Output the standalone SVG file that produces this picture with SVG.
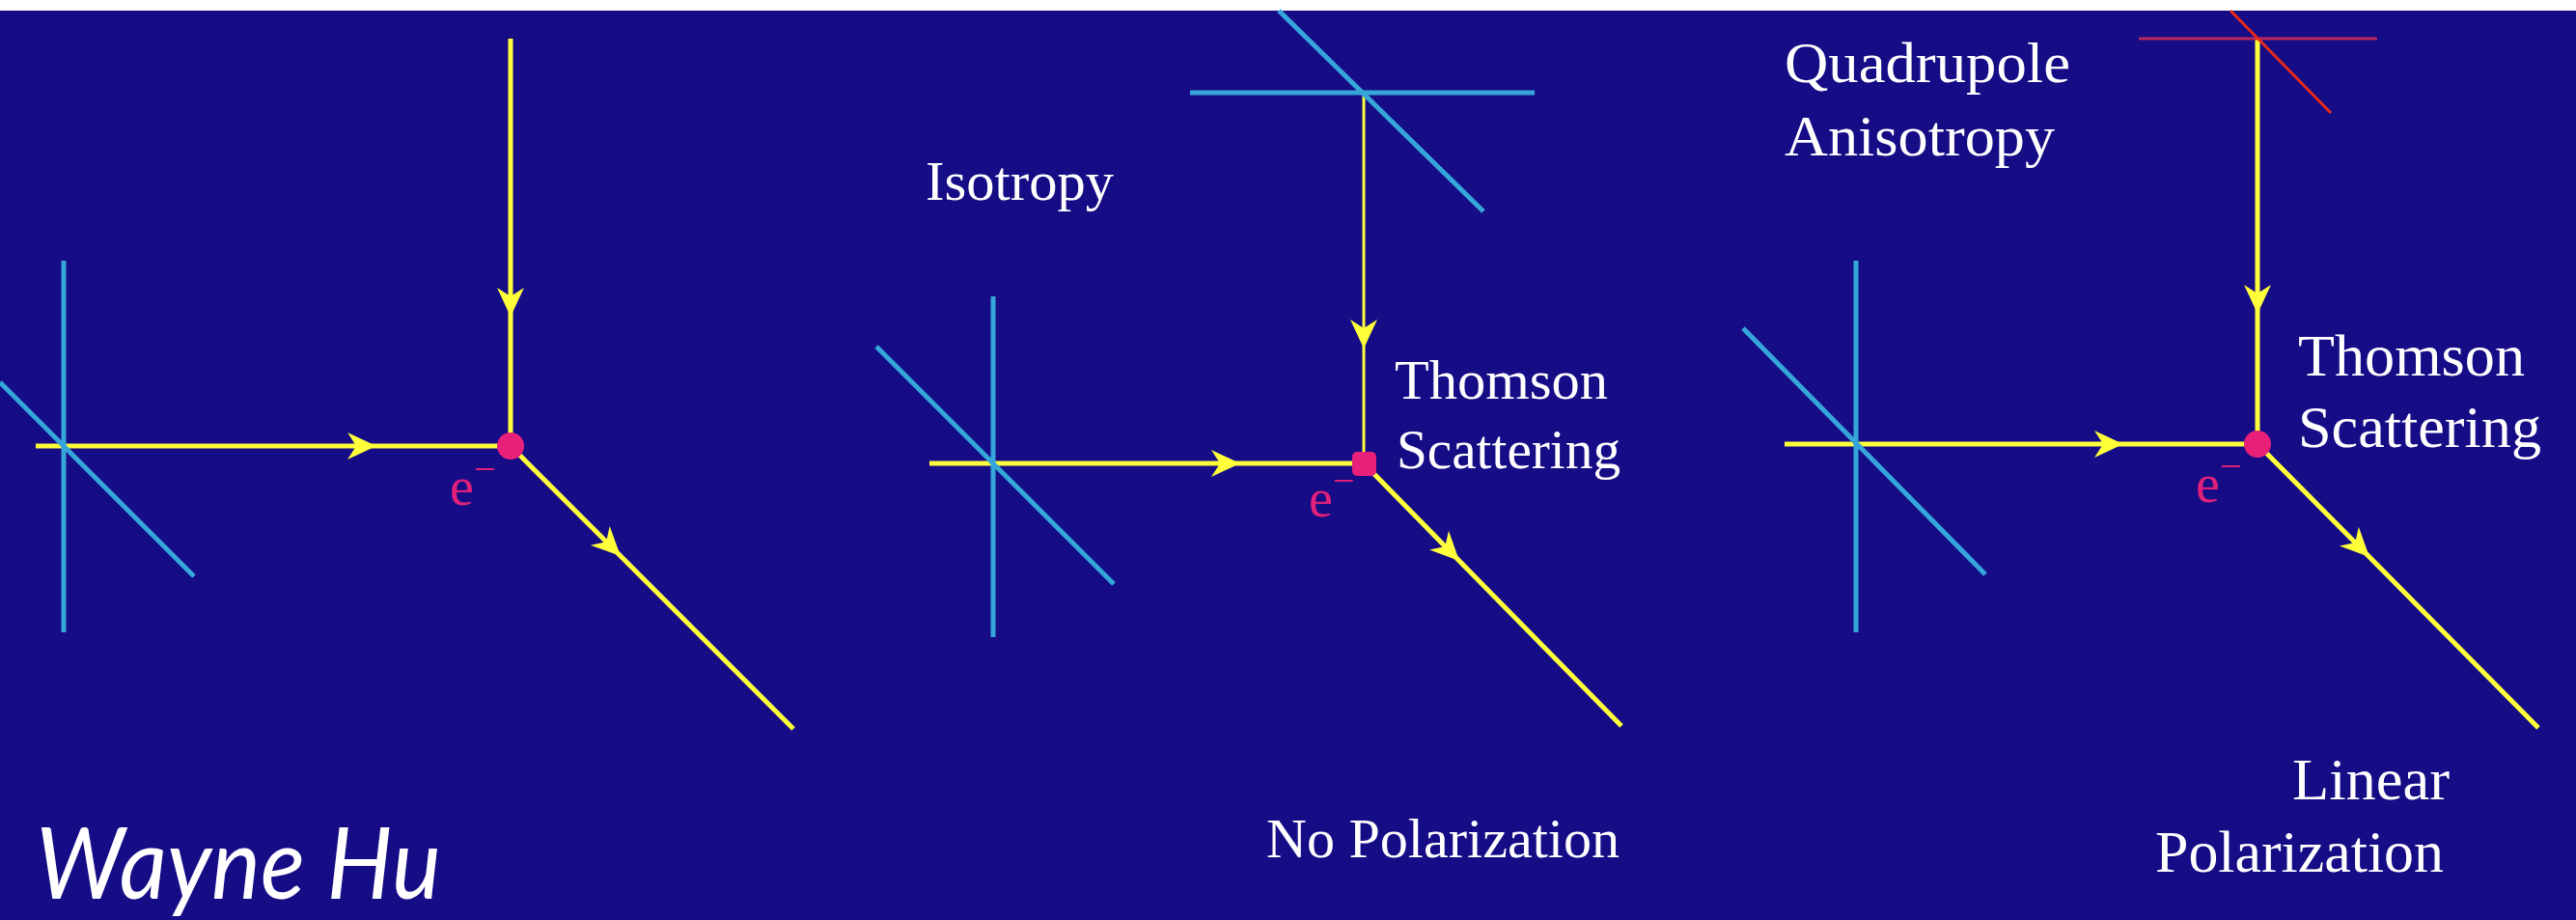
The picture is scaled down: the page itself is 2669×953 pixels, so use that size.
<svg xmlns="http://www.w3.org/2000/svg" width="2669" height="953" viewBox="0 0 2669 953">
<style>
.bg{fill:#150c86}
.cy{stroke:#36a6da;stroke-width:5;fill:none;stroke-linecap:butt}
.ray{stroke:#ffff3a;stroke-width:5;fill:none}
.thin{stroke-width:3}
.lbl{font-family:"Liberation Serif","Times New Roman",serif;fill:#ffffff}
.el{font-family:"Liberation Serif","Times New Roman",serif;fill:#e0207a;font-size:56px}
.dot{fill:#e8207a}
</style>
<defs>
<marker id="arr" markerUnits="userSpaceOnUse" viewBox="-32 -16 34 32" markerWidth="34" markerHeight="32" refX="0" refY="0" orient="auto">
<path d="M0,0 L-30,-14 L-21,0 L-30,14 Z" fill="#ffff3a"/>
</marker>
</defs>
<rect x="0" y="0" width="2669" height="953" fill="#ffffff"/>
<rect class="bg" x="0" y="11" width="2669" height="942"/>

<g id="connectors">
<path class="ray" d="M529,40 L529,328 L529,462" marker-mid="url(#arr)"/>
<path class="ray" d="M37,462 L390,462 L529,462" marker-mid="url(#arr)"/>
<path class="ray" d="M529,462 L643,576 L822,755" marker-mid="url(#arr)"/>

<path class="ray thin" d="M1413,96 L1413,361 L1413,480" marker-mid="url(#arr)"/>
<path class="ray" d="M963,480 L1285,480 L1413,480" marker-mid="url(#arr)"/>
<path class="ray" d="M1413,480 L1512,581 L1680,752" marker-mid="url(#arr)"/>

<path class="ray" d="M2339,40 L2339,325 L2339,460" marker-mid="url(#arr)"/>
<path class="ray" d="M1849,460 L2200,460 L2339,460" marker-mid="url(#arr)"/>
<path class="ray" d="M2339,460 L2455,577 L2630,754" marker-mid="url(#arr)"/>
</g>

<g id="panel1-source">
<line class="cy" x1="66" y1="270" x2="66" y2="655"/>
<line class="cy" x1="0" y1="396" x2="201" y2="597"/>
</g>
<g id="panel1-electron">
<circle class="dot" cx="529" cy="462" r="14"/>
<text class="el" x="466" y="523">e<tspan dy="-24" font-size="40">−</tspan></text>
</g>
<g id="panel1-author">
<text x="37" y="931" font-family="Lato,'Open Sans',sans-serif" font-style="italic" font-size="102" fill="#ffffff" textLength="420" lengthAdjust="spacingAndGlyphs">Wayne Hu</text>
</g>

<g id="panel2-source-top">
<line class="cy" x1="1233" y1="96" x2="1590" y2="96"/>
<line class="cy" x1="1325" y1="11" x2="1537" y2="219"/>
</g>
<g id="panel2-source-left">
<line class="cy" x1="1029" y1="307" x2="1029" y2="660"/>
<line class="cy" x1="908" y1="359" x2="1154" y2="605"/>
</g>
<g id="panel2-electron">
<rect class="dot" x="1401" y="468" width="25" height="25" rx="5"/>
<text class="el" x="1356" y="535">e<tspan dy="-24" font-size="40">−</tspan></text>
</g>
<g id="panel2-labels">
<text class="lbl" x="959" y="207" font-size="57" textLength="195" lengthAdjust="spacingAndGlyphs">Isotropy</text>
<text class="lbl" x="1445" y="413" font-size="57" textLength="221" lengthAdjust="spacingAndGlyphs">Thomson</text>
<text class="lbl" x="1447" y="485" font-size="57" textLength="232" lengthAdjust="spacingAndGlyphs">Scattering</text>
<text class="lbl" x="1312" y="888" font-size="57" textLength="366" lengthAdjust="spacingAndGlyphs">No Polarization</text>
</g>

<g id="panel3-source-top">
<line x1="2216" y1="40" x2="2463" y2="40" stroke="#b8285a" stroke-width="3"/>
<line x1="2311" y1="11" x2="2415" y2="117" stroke="#e82a18" stroke-width="3"/>
</g>
<g id="panel3-source-left">
<line class="cy" x1="1923" y1="270" x2="1923" y2="655"/>
<line class="cy" x1="1806" y1="340" x2="2057" y2="595"/>
</g>
<g id="panel3-electron">
<circle class="dot" cx="2339" cy="460" r="14"/>
<text class="el" x="2275" y="520">e<tspan dy="-24" font-size="40">−</tspan></text>
</g>
<g id="panel3-labels">
<text class="lbl" x="1849" y="85" font-size="60" textLength="296" lengthAdjust="spacingAndGlyphs">Quadrupole</text>
<text class="lbl" x="1849" y="161" font-size="60" textLength="280" lengthAdjust="spacingAndGlyphs">Anisotropy</text>
<text class="lbl" x="2381" y="389" font-size="61" textLength="235" lengthAdjust="spacingAndGlyphs">Thomson</text>
<text class="lbl" x="2381" y="463" font-size="61" textLength="252" lengthAdjust="spacingAndGlyphs">Scattering</text>
<text class="lbl" x="2375" y="828" font-size="61" textLength="163" lengthAdjust="spacingAndGlyphs">Linear</text>
<text class="lbl" x="2233" y="903" font-size="61" textLength="299" lengthAdjust="spacingAndGlyphs">Polarization</text>
</g>
</svg>
